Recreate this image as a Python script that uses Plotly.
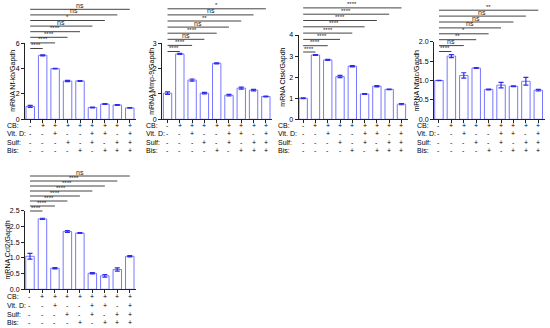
import plotly.graph_objects as go

W, H = 550, 328

# ---------------- data ----------------
groups = list(range(9))
row_names = ["CB:", "Vit. D:", "Sulf:", "Bis:"]
cb   = ["-", "+", "+", "+", "+", "+", "+", "+", "+"]
vitd = ["-", "-", "+", "-", "-", "+", "+", "-", "+"]
sulf = ["-", "-", "-", "+", "-", "+", "-", "+", "+"]
bis  = ["-", "-", "-", "-", "+", "-", "+", "+", "+"]
rows = [cb, vitd, sulf, bis]

nfkb = [1.02, 5.05, 4.00, 3.02, 3.03, 0.93, 1.20, 1.13, 0.90]
nfkb_err = [0.08, 0.04, 0.03, 0.05, 0.03, 0.03, 0.03, 0.03, 0.02]
mmp9 = [1.03, 2.58, 1.55, 1.03, 2.21, 0.95, 1.23, 1.15, 0.90]
mmp9_err = [0.05, 0.02, 0.04, 0.03, 0.02, 0.03, 0.04, 0.03, 0.02]
ctsk = [1.00, 3.05, 2.82, 2.03, 2.52, 1.20, 1.57, 1.42, 0.72]
ctsk_err = [0.02, 0.02, 0.02, 0.05, 0.03, 0.02, 0.03, 0.01, 0.03]
nfatc = [1.00, 1.63, 1.13, 1.32, 0.77, 0.88, 0.85, 0.98, 0.75]
nfatc_err = [0.005, 0.04, 0.07, 0.01, 0.01, 0.07, 0.01, 0.10, 0.02]
ccl2 = [1.05, 2.24, 0.67, 1.84, 1.79, 0.51, 0.43, 0.63, 1.05]
ccl2_err = [0.09, 0.02, 0.02, 0.03, 0.01, 0.02, 0.04, 0.05, 0.02]

titles = ["mRNA Nf-kb/Gapdh", "mRNA Mmp-9/Gapdh", "mRNA Ctsk/Gapdh",
          "mRNA Nfatc/Gapdh", "mRNA Ccl2/Gapdh"]

ticks_nfkb = [0, 2, 4, 6]
ticks_mmp9 = [0, 1, 2, 3]
ticks_ctsk = [0, 1, 2, 3, 4]
ticks_nfatc = [0.0, 0.5, 1.0, 1.5, 2.0]
ticks_ccl2 = [0.0, 0.5, 1.0, 1.5, 2.0, 2.5]

sig_nfkb = ["****", "****", "****", "****", "ns", "*", "ns", "ns"]
sig_mmp9 = ["****", "****", "ns", "****", "ns", "**", "ns", "*"]
sig_ctsk = ["****"] * 8
sig_nfatc = ["****", "ns", "**", "*", "ns", "ns", "ns", "**"]
sig_ccl2 = ["****"] * 7 + ["ns"]

# ---------------- layout (pixels) ----------------
panels = [
    dict(v=nfkb, e=nfkb_err, t=ticks_nfkb, fmt="{:.0f}", sig=sig_nfkb, title=titles[0],
         x0=25.0, x1=136.0, xl=-0.42, ytop=43.3, ybot=119.3, tx=13.5, lx=5,
         rowy=[125.5, 134.0, 142.3, 150.6], bbase=48.5, bstep=5.6, btop=0),
    dict(v=mmp9, e=mmp9_err, t=ticks_mmp9, fmt="{:.0f}", sig=sig_mmp9, title=titles[1],
         x0=162.0, x1=272.0, xl=-0.45, ytop=43.3, ybot=119.3, tx=152.5, lx=144,
         rowy=[125.5, 134.0, 142.3, 150.6], bbase=51.5, bstep=6.1, btop=0),
    dict(v=ctsk, e=ctsk_err, t=ticks_ctsk, fmt="{:.0f}", sig=sig_ctsk, title=titles[2],
         x0=298.5, x1=407.6, xl=-0.38, ytop=35.0, ybot=119.3, tx=283.5, lx=276,
         rowy=[125.5, 134.0, 142.3, 150.6], bbase=52.0, bstep=6.3, btop=0),
    dict(v=nfatc, e=nfatc_err, t=ticks_nfatc, fmt="{:.1f}", sig=sig_nfatc, title=titles[3],
         x0=434.0, x1=544.5, xl=-0.40, ytop=41.7, ybot=119.3, tx=417.0, lx=415,
         rowy=[125.5, 134.0, 142.3, 150.6], bbase=51.5, bstep=5.9, btop=0),
    dict(v=ccl2, e=ccl2_err, t=ticks_ccl2, fmt="{:.1f}", sig=sig_ccl2, title=titles[4],
         x0=25.0, x1=136.0, xl=-0.40, ytop=210.7, ybot=289.3, tx=7.5, lx=5,
         rowy=[296.7, 305.7, 314.0, 322.7], bbase=211.0, bstep=5.0, btop=165),
]

BAR_LINE = "rgb(120,120,255)"
ERR_COL = "rgb(45,45,235)"
AX_COL = "#222222"
FONT = "Arial, Liberation Sans, sans-serif"

fig = go.Figure()
layout = dict(width=W, height=H, margin=dict(l=0, r=0, t=0, b=0, pad=0),
              autosize=False,
              paper_bgcolor="white", plot_bgcolor="rgba(0,0,0,0)", showlegend=False,
              font=dict(family=FONT, size=7, color="black"))
annotations = []


def nm(prefix, i):
    return prefix if i == 1 else f"{prefix}{i}"


def ref(letter, i):
    return letter if i == 1 else f"{letter}{i}"


def py(p):
    return 1 - p / H


for k, p in enumerate(panels):
    i = k + 1
    o = k + 6  # overlay axes for brackets
    xr, yr = ref("x", i), ref("y", i)
    xo, yo = ref("x", o), ref("y", o)
    ymax = p["t"][-1]

    fig.add_trace(go.Bar(
        x=groups, y=p["v"], width=0.68, xaxis=xr, yaxis=yr,
        marker=dict(color="white", line=dict(color=BAR_LINE, width=1)),
        error_y=dict(type="data", array=p["e"], visible=True, color=ERR_COL,
                     thickness=1.2, width=2.5),
        hoverinfo="skip"))

    layout[nm("xaxis", i)] = dict(
        domain=[p["x0"] / W, p["x1"] / W], range=[p["xl"], 8.5], anchor=yr,
        tickvals=groups, showticklabels=False, ticks="outside", ticklen=3,
        tickwidth=1, tickcolor=AX_COL, showline=True, linecolor=AX_COL,
        linewidth=1, showgrid=False, zeroline=False, fixedrange=True,
        automargin=False)
    layout[nm("yaxis", i)] = dict(
        domain=[py(p["ybot"]), py(p["ytop"])], range=[0, ymax], anchor=xr,
        tickvals=p["t"], ticktext=[p["fmt"].format(t) for t in p["t"]],
        ticks="outside", ticklen=3, tickwidth=1, tickcolor=AX_COL,
        showline=True, linecolor=AX_COL, linewidth=1, showgrid=False,
        zeroline=False, tickfont=dict(size=7, color="black"), fixedrange=True,
        automargin=False)

    # y-axis title
    annotations.append(dict(
        text=p["title"], x=p["tx"] / W, y=py((p["ytop"] + p["ybot"]) / 2),
        xref="paper", yref="paper", textangle=-90, showarrow=False,
        xanchor="center", yanchor="middle", font=dict(size=7, color="black")))

    # condition table
    for r, (name, row) in enumerate(zip(row_names, rows)):
        yy = py(p["rowy"][r])
        annotations.append(dict(text=name, x=p["lx"] / W, y=yy, xref="paper",
                                yref="paper", showarrow=False, xanchor="left",
                                yanchor="middle", font=dict(size=7, color="black")))
        for g, sym in zip(groups, row):
            annotations.append(dict(text=sym, x=g, y=yy, xref=xr, yref="paper",
                                    showarrow=False, xanchor="center",
                                    yanchor="middle",
                                    font=dict(size=7, color="black")))

    # significance brackets (overlay subplot in pixel units)
    bt = p["btop"]
    bb = p["bbase"] + 4
    layout[nm("xaxis", o)] = dict(domain=[p["x0"] / W, p["x1"] / W],
                                  range=[p["xl"], 8.5], anchor=yo, visible=False,
                                  fixedrange=True, automargin=False)
    layout[nm("yaxis", o)] = dict(domain=[py(bb), py(bt)], range=[bb, bt],
                                  anchor=xo, visible=False, fixedrange=True,
                                  automargin=False)
    for lvl, lab in enumerate(p["sig"]):
        ly = p["bbase"] - lvl * p["bstep"]
        end = groups[lvl + 1]
        fig.add_trace(go.Scatter(x=[groups[0], end], y=[ly, ly], mode="lines",
                                 line=dict(color="#444444", width=1),
                                 xaxis=xo, yaxis=yo, hoverinfo="skip"))
        annotations.append(dict(
            text=lab, x=(groups[0] + end) / 2, y=ly, xref=xo, yref=yo,
            showarrow=False, xanchor="center", yanchor="bottom", yshift=-1.5,
            font=dict(size=6 if lab != "ns" else 7, color="#222222")))

layout["annotations"] = annotations
fig.update_layout(**layout)
fig.write_html(
    "out.html",
    config={"displayModeBar": False},
    post_script="document.body.style.margin='0';document.body.style.overflow='hidden';",
)
